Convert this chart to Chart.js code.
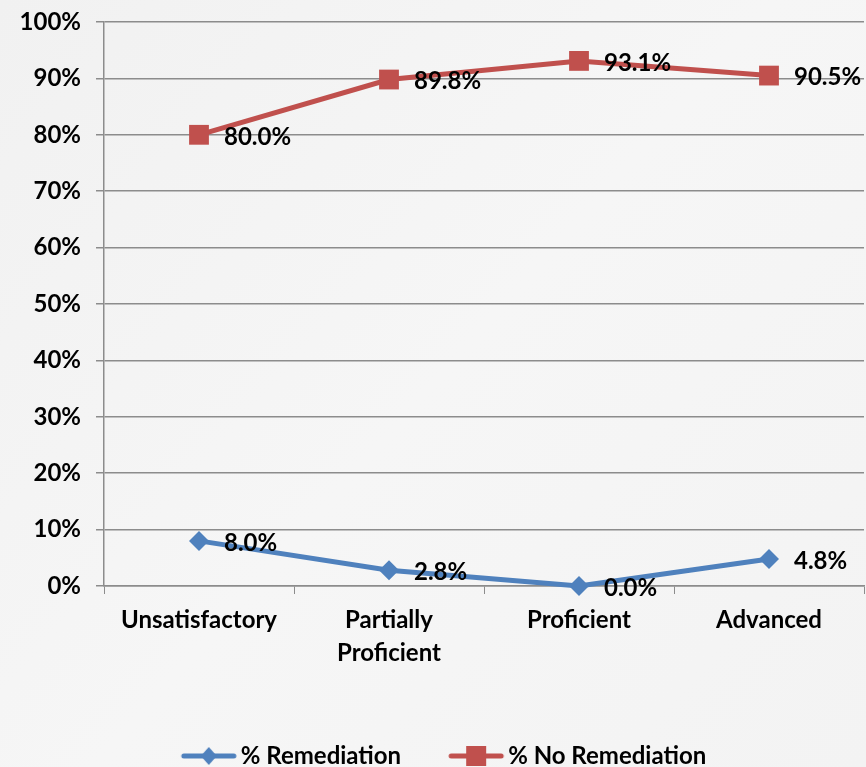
<!DOCTYPE html>
<html lang="en">
<head>
    <meta charset="UTF-8">
    <title>Remediation by Performance Level</title>
    <script src="https://cdn.jsdelivr.net/npm/chart.js"></script>
    <style>
        html, body {
            margin: 0;
            padding: 0;
            background: #f4f4f4;
        }
        #wrap {
            width: 866px;
            height: 767px;
        }
    </style>
</head>
<body>
    <div id="wrap"><canvas id="remChart" width="866" height="767"></canvas></div>

    <script>
        // chart data
        var categories = ["Unsatisfactory", ["Partially", "Proficient"], "Proficient", "Advanced"];
        var remediation = [8.0, 2.8, 0.0, 4.8];
        var noRemediation = [80.0, 89.8, 93.1, 90.5];
        var yTicks = [0, 10, 20, 30, 40, 50, 60, 70, 80, 90, 100];

        var BLUE = "#4F81BD";
        var RED = "#C0504D";
        var FONT = "Lato, 'Open Sans', sans-serif";

        // legend icons: a short line with the marker in the middle
        function legendIcon(color, shape) {
            var c = document.createElement('canvas');
            c.width = 95; c.height = 22;
            var g = c.getContext('2d');
            g.strokeStyle = color;
            g.lineWidth = 5;
            g.lineCap = 'round';
            g.beginPath();
            g.moveTo(38, 11); g.lineTo(88, 11);
            g.stroke();
            g.fillStyle = color;
            var cx = 63, cy = 11;
            g.beginPath();
            if (shape === 'diamond') {
                g.moveTo(cx, cy - 9); g.lineTo(cx + 8, cy); g.lineTo(cx, cy + 9); g.lineTo(cx - 8, cy);
            } else {
                g.rect(cx - 10, cy - 10, 20, 20);
            }
            g.closePath();
            g.fill();
            return c;
        }

        var bgPlugin = {
            id: 'bg',
            beforeDraw: function (chart) {
                var ctx = chart.ctx;
                var grad = ctx.createLinearGradient(0, 0, chart.width, chart.height);
                grad.addColorStop(0, '#f1f1f1');
                grad.addColorStop(0.5, '#f6f6f6');
                grad.addColorStop(1, '#f3f3f3');
                ctx.save();
                ctx.fillStyle = grad;
                ctx.fillRect(0, 0, chart.width, chart.height);
                ctx.restore();
            }
        };

        var valueLabels = {
            id: 'valueLabels',
            afterDatasetsDraw: function (chart) {
                var ctx = chart.ctx;
                ctx.save();
                ctx.font = "bold 24px " + FONT;
                ctx.fillStyle = "#000";
                ctx.textAlign = "left";
                ctx.textBaseline = "middle";
                chart.data.datasets.forEach(function (ds, i) {
                    chart.getDatasetMeta(i).data.forEach(function (pt, j) {
                        ctx.fillText(ds.data[j].toFixed(1) + "%", pt.x + 25, pt.y + 2);
                    });
                });
                ctx.restore();
            }
        };

        var ctx = document.getElementById('remChart').getContext('2d');
        var remChart = new Chart(ctx, {
            type: 'line',
            data: {
                labels: categories,
                datasets: [
                    {
                        label: "% Remediation",
                        data: remediation,
                        borderColor: BLUE,
                        backgroundColor: BLUE,
                        borderWidth: 5,
                        pointStyle: 'rectRot',
                        pointRadius: 10,
                        pointHoverRadius: 10,
                        pointBorderWidth: 0,
                        clip: false
                    },
                    {
                        label: "% No Remediation",
                        data: noRemediation,
                        borderColor: RED,
                        backgroundColor: RED,
                        borderWidth: 5,
                        pointStyle: 'rect',
                        pointRadius: 14,
                        pointHoverRadius: 14,
                        pointBorderWidth: 0,
                        clip: false
                    }
                ]
            },
            options: {
                responsive: false,
                animation: false,
                layout: { autoPadding: false, padding: { top: 22, right: 2, bottom: -11, left: 0 } },
                plugins: {
                    legend: {
                        position: 'bottom',
                        labels: {
                            usePointStyle: true,
                            pointStyleWidth: 71,
                            padding: 24,
                            color: '#000',
                            font: { family: FONT, size: 24, weight: 'bold' },
                            generateLabels: function (chart) {
                                return [
                                    { text: "% Remediation", pointStyle: legendIcon(BLUE, 'diamond'), fillStyle: BLUE, strokeStyle: BLUE, lineWidth: 0, datasetIndex: 0 },
                                    { text: "% No Remediation", pointStyle: legendIcon(RED, 'square'), fillStyle: RED, strokeStyle: RED, lineWidth: 0, datasetIndex: 1 }
                                ];
                            }
                        }
                    },
                    tooltip: { enabled: false }
                },
                scales: {
                    x: {
                        offset: true,
                        afterFit: function (s) { s.height = 134; },
                        grid: { offset: true, drawOnChartArea: false, drawTicks: true, tickLength: 8, color: '#8c8c8c' },
                        border: { color: '#8c8c8c', width: 1.5 },
                        ticks: {
                            color: '#000',
                            padding: 10,
                            maxRotation: 0,
                            font: { family: FONT, size: 24, weight: 'bold', lineHeight: 1.375 }
                        }
                    },
                    y: {
                        min: 0,
                        max: 100,
                        afterFit: function (s) { s.width = 104; s.paddingTop = 0; s.paddingBottom = 0; },
                        afterBuildTicks: function (s) { s.ticks = yTicks.map(function (v) { return { value: v }; }); },
                        grid: { color: '#8c8c8c', lineWidth: 1.5, tickLength: 8 },
                        border: { color: '#8c8c8c', width: 1.5 },
                        ticks: {
                            color: '#000',
                            padding: 15,
                            font: { family: FONT, size: 24, weight: 'bold' },
                            callback: function (v) { return v + '%'; }
                        }
                    }
                }
            },
            plugins: [bgPlugin, valueLabels]
        });
    </script>
</body>
</html>
